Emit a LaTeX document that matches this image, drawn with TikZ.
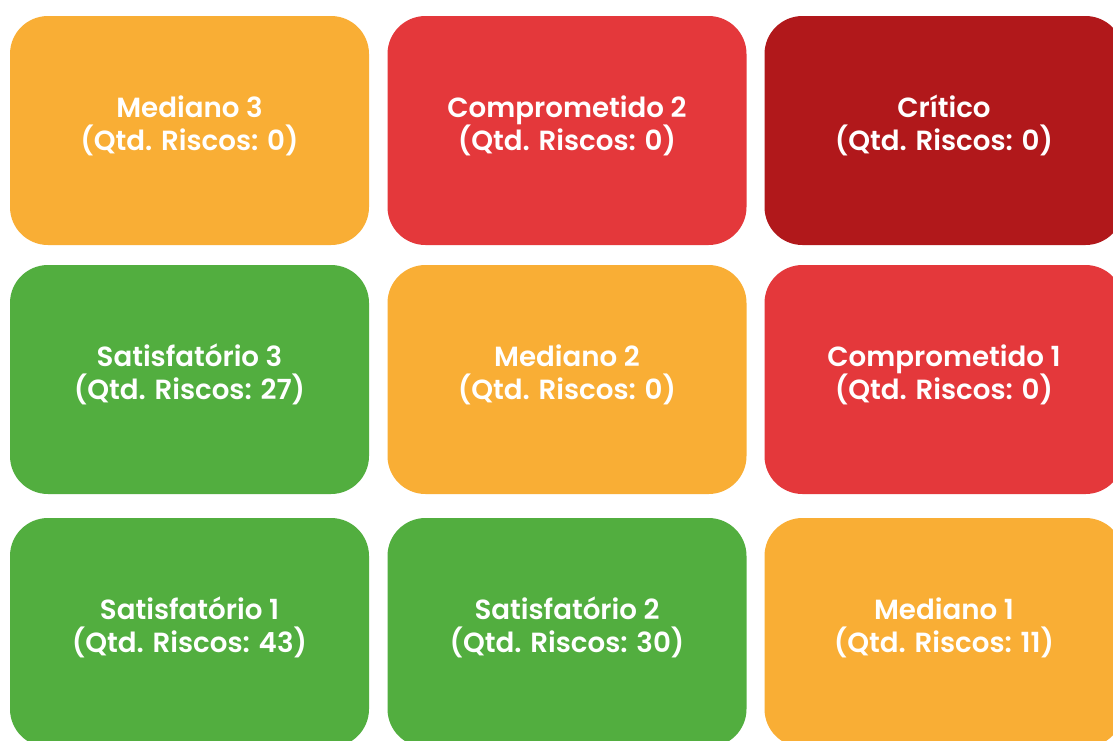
\documentclass[tikz,border=0pt]{standalone}
\usepackage{fontspec}
\setmainfont{Poppins SemiBold}
\begin{document}
\begin{tikzpicture}[x=1pt,y=-1pt,
  cell/.style={rounded corners=38pt, minimum width=359pt, minimum height=229pt,
    inner sep=0pt},
  celltext/.style={align=center, text=white, inner sep=0pt,
    font=\fontsize{27.7}{33}\selectfont},
  orangecell/.style={cell, fill=cOrange},
  redcell/.style={cell, fill=cRed},
  darkcell/.style={cell, fill=cDark},
  greencell/.style={cell, fill=cGreen}]
\definecolor{cOrange}{HTML}{F9AE35}
\definecolor{cRed}{HTML}{E4383B}
\definecolor{cDark}{HTML}{B1181B}
\definecolor{cGreen}{HTML}{52AE3F}
\useasboundingbox (0,0) rectangle (1113,740);
\clip (0,0) rectangle (1113,740);
\fill[white] (0,0) rectangle (1113,740);
\node[orangecell] (m3) at (189.5,130.5) {};
\node[redcell] (c2) at (567,130.5) {};
\node[darkcell] (cr) at (944,130.5) {};
\node[greencell] (s3) at (189.5,379.5) {};
\node[orangecell] (m2) at (567,379.5) {};
\node[redcell] (c1) at (944,379.5) {};
\node[greencell] (s1) at (189.5,632.5) {};
\node[greencell] (s2) at (567,632.5) {};
\node[orangecell] (m1) at (944,632.5) {};
\node[celltext] (tm3) at ([yshift=5pt]m3.center) {Mediano 3\\(Qtd. Riscos: 0)};
\node[celltext] (tc2) at ([yshift=5pt]c2.center) {Comprometido 2\\(Qtd. Riscos: 0)};
\node[celltext] (tcr) at ([yshift=5pt]cr.center) {Crítico\\(Qtd. Riscos: 0)};
\node[celltext] (ts3) at ([yshift=5pt]s3.center) {Satisfatório 3\\(Qtd. Riscos: 27)};
\node[celltext] (tm2) at ([yshift=5pt]m2.center) {Mediano 2\\(Qtd. Riscos: 0)};
\node[celltext] (tc1) at ([yshift=5pt]c1.center) {Comprometido 1\\(Qtd. Riscos: 0)};
\node[celltext] (ts1) at ([yshift=5pt]s1.center) {Satisfatório 1\\(Qtd. Riscos: 43)};
\node[celltext] (ts2) at ([yshift=5pt]s2.center) {Satisfatório 2\\(Qtd. Riscos: 30)};
\node[celltext] (tm1) at ([yshift=5pt]m1.center) {Mediano 1\\(Qtd. Riscos: 11)};
\end{tikzpicture}
\end{document}
